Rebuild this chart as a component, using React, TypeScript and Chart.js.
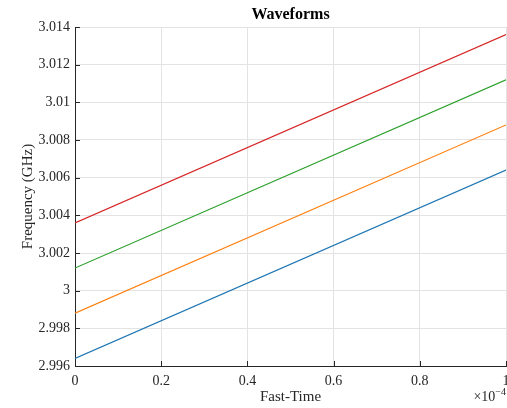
import { useEffect, useRef } from "react";
import { Chart, registerables } from "chart.js";

Chart.register(...registerables);

// Fast-time samples (in units of 1e-4 s)
const fastTime = [0, 1];

// Instantaneous frequency of each chirp (GHz)
const chirp1 = [2.9964, 3.0064];
const chirp2 = [2.9988, 3.0088];
const chirp3 = [3.0012, 3.0112];
const chirp4 = [3.0036, 3.0136];

const seriesColors = ["#1f77b4", "#ff7f0e", "#2ca02c", "#d62728"];

const yMin = 2.996;
const yMax = 3.014;
const yStep = 0.002;
const xMin = 0;
const xMax = 1;
const xStep = 0.2;

const titleText = "Waveforms";
const xTitle = "Fast-Time";
const yTitle = "Frequency (GHz)";
const xExponent = "\u22124";

const FONT = '"Liberation Serif", "Times New Roman", serif';
const AXIS_COLOR = "#262626";
const GRID_COLOR = "#e3e3e3";

const annotations = {
  id: "matlabAnnotations",
  afterDraw(chart: any) {
    const { ctx, chartArea, scales } = chart;
    const x = scales.x;
    const y = scales.y;
    ctx.save();

    // inward tick marks
    ctx.strokeStyle = AXIS_COLOR;
    ctx.lineWidth = 1;
    ctx.beginPath();
    x.ticks.forEach((t: any) => {
      const px = Math.round(x.getPixelForValue(t.value)) + 0.5;
      ctx.moveTo(px, chartArea.bottom);
      ctx.lineTo(px, chartArea.bottom - 5);
    });
    y.ticks.forEach((t: any) => {
      const py = Math.round(y.getPixelForValue(t.value)) + 0.5;
      ctx.moveTo(chartArea.left, py);
      ctx.lineTo(chartArea.left + 5, py);
    });
    ctx.stroke();

    const cx = (chartArea.left + chartArea.right) / 2;
    const cy = (chartArea.top + chartArea.bottom) / 2;

    ctx.fillStyle = "#000000";
    ctx.textAlign = "center";
    ctx.textBaseline = "middle";
    ctx.font = `bold 16px ${FONT}`;
    ctx.fillText(titleText, cx, 15);

    ctx.fillStyle = AXIS_COLOR;
    ctx.font = `15px ${FONT}`;
    ctx.fillText(xTitle, cx, 397);

    ctx.save();
    ctx.translate(28, cy);
    ctx.rotate(-Math.PI / 2);
    ctx.fillText(yTitle, 0, 0);
    ctx.restore();

    // exponent of the x axis
    ctx.textAlign = "right";
    ctx.textBaseline = "alphabetic";
    ctx.font = `10px ${FONT}`;
    const expW = ctx.measureText(xExponent).width;
    ctx.fillText(xExponent, 506, 395);
    ctx.font = `14px ${FONT}`;
    ctx.fillText("\u00d710", 506 - expW, 401);

    ctx.restore();
  },
};

export default function App() {
  const canvasRef = useRef<HTMLCanvasElement | null>(null);

  useEffect(() => {
    if (!canvasRef.current) return;
    const series = [chirp1, chirp2, chirp3, chirp4];
    const chart = new Chart(canvasRef.current, {
      type: "line",
      data: {
        datasets: series.map((vals, i) => ({
          label: `Chirp ${i + 1}`,
          data: fastTime.map((t, j) => ({ x: t, y: vals[j] })),
          borderColor: seriesColors[i],
          backgroundColor: seriesColors[i],
          borderWidth: 1.2,
          pointRadius: 0,
          tension: 0,
          fill: false,
        })),
      },
      options: {
        responsive: false,
        animation: false,
        devicePixelRatio: 1,
        layout: { padding: { top: 27, right: 1, left: 0, bottom: 0 } },
        plugins: {
          legend: { display: false },
          title: { display: false },
          tooltip: { enabled: false },
        },
        scales: {
          x: {
            type: "linear",
            min: xMin,
            max: xMax,
            grid: { color: GRID_COLOR, lineWidth: 1, drawTicks: false },
            border: { display: true, color: AXIS_COLOR, width: 1 },
            ticks: {
              stepSize: xStep,
              padding: 7,
              color: AXIS_COLOR,
              font: { family: FONT, size: 14 },
              maxRotation: 0,
              callback: (v: any) => String(Number(Number(v).toFixed(1))),
            },
            afterFit(scale: any) {
              scale.height = 42;
              scale.paddingLeft = 0;
              scale.paddingRight = 0;
            },
          },
          y: {
            type: "linear",
            min: yMin,
            max: yMax,
            grid: { color: GRID_COLOR, lineWidth: 1, drawTicks: false },
            border: { display: true, color: AXIS_COLOR, width: 1 },
            ticks: {
              stepSize: yStep,
              padding: 5,
              color: AXIS_COLOR,
              font: { family: FONT, size: 14 },
              callback: (v: any) => String(Number(Number(v).toFixed(3))),
            },
            afterFit(scale: any) {
              scale.width = 75;
              scale.paddingTop = 0;
              scale.paddingBottom = 0;
            },
          },
        },
      },
      plugins: [annotations],
    });
    return () => chart.destroy();
  }, []);

  return (
    <div style={{ position: "fixed", left: 0, top: 0, width: 507, height: 408, background: "#ffffff" }}>
      <canvas ref={canvasRef} width={507} height={408} />
    </div>
  );
}
